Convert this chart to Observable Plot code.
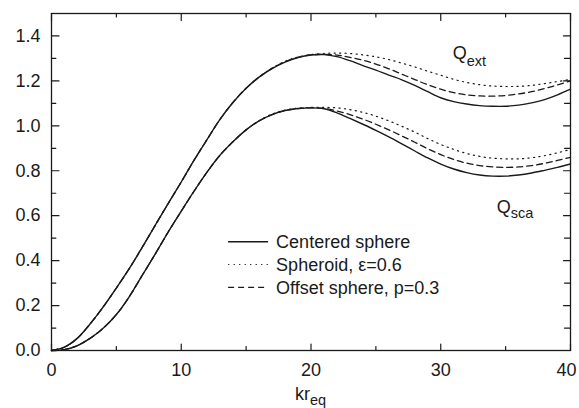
<!DOCTYPE html>
<html><head><meta charset="utf-8">
<script src="https://cdn.jsdelivr.net/npm/d3@7"></script>
<script src="https://cdn.jsdelivr.net/npm/@observablehq/plot@0.6"></script>
<style>
body{margin:0;background:#fff}
svg{font-family:"Liberation Sans",Arial,Helvetica,sans-serif}
</style>
</head><body><div id="chart"></div>
<script>
// ---- data ----
const kr = [0,1,2,3,4,5,6,7,8,9,10,11,12,13,14,15,16,17,18,19,20,21,22,23,24,25,26,27,28,29,30,31,32,33,34,35,36,37,38,39,40];
const extCentered = [0,0.015,0.055,0.12,0.195,0.278,0.365,0.46,0.558,0.655,0.75,0.848,0.94,1.03,1.105,1.167,1.217,1.255,1.284,1.304,1.315,1.317,1.308,1.29,1.268,1.248,1.226,1.205,1.18,1.152,1.125,1.108,1.097,1.09,1.087,1.087,1.092,1.102,1.117,1.138,1.163];
const extSpheroid = [0,0.015,0.055,0.12,0.195,0.278,0.365,0.46,0.558,0.655,0.75,0.848,0.94,1.03,1.105,1.167,1.218,1.257,1.287,1.306,1.317,1.322,1.324,1.322,1.316,1.307,1.295,1.279,1.262,1.243,1.225,1.207,1.193,1.183,1.177,1.175,1.176,1.18,1.188,1.197,1.207];
const extOffset = [0,0.015,0.055,0.12,0.195,0.278,0.365,0.46,0.558,0.655,0.75,0.848,0.94,1.03,1.105,1.167,1.217,1.256,1.285,1.305,1.316,1.318,1.315,1.305,1.292,1.275,1.254,1.23,1.206,1.183,1.163,1.148,1.138,1.133,1.132,1.135,1.142,1.152,1.166,1.182,1.2];
const scaCentered = [0,0.004,0.022,0.055,0.1,0.16,0.24,0.335,0.43,0.528,0.62,0.71,0.795,0.87,0.93,0.982,1.022,1.05,1.068,1.077,1.08,1.076,1.058,1.033,1.007,0.98,0.951,0.92,0.888,0.857,0.83,0.808,0.792,0.781,0.776,0.776,0.781,0.79,0.802,0.815,0.83];
const scaSpheroid = [0,0.004,0.022,0.055,0.1,0.16,0.24,0.335,0.43,0.528,0.62,0.71,0.795,0.87,0.93,0.982,1.023,1.052,1.07,1.079,1.082,1.082,1.08,1.072,1.06,1.043,1.022,0.998,0.972,0.943,0.917,0.895,0.877,0.864,0.856,0.853,0.853,0.858,0.867,0.88,0.895];
const scaOffset = [0,0.004,0.022,0.055,0.1,0.16,0.24,0.335,0.43,0.528,0.62,0.71,0.795,0.87,0.93,0.982,1.022,1.05,1.068,1.077,1.08,1.078,1.066,1.05,1.03,1.007,0.982,0.955,0.927,0.898,0.872,0.85,0.834,0.823,0.817,0.815,0.817,0.823,0.833,0.846,0.86];

const xMajor = [0,10,20,30,40];
const xMinor = [5,15,25,35];
const yMajor = [0,0.2,0.4,0.6,0.8,1.0,1.2,1.4];
const yMinor = [0.1,0.3,0.5,0.7,0.9,1.1,1.3];
const legendLabels = ["Centered sphere","Spheroid, \u03b5=0.6","Offset sphere, p=0.3"];

// ---- styles ----
const ink = "#1a1a1a";
const styles = {
  centered: {strokeWidth:1.4, dash:null},
  spheroid: {strokeWidth:1.2, dash:"1.2,4.3"},
  offset:   {strokeWidth:1.3, dash:"6,4"}
};

const seriesList = [
  {q:"ext", model:"centered", values:extCentered},
  {q:"ext", model:"spheroid", values:extSpheroid},
  {q:"ext", model:"offset",   values:extOffset},
  {q:"sca", model:"centered", values:scaCentered},
  {q:"sca", model:"spheroid", values:scaSpheroid},
  {q:"sca", model:"offset",   values:scaOffset}
];
const table = seriesList.flatMap(s => s.values.map((v,i) => ({kr:kr[i], v, q:s.q, model:s.model})));

const tickShape = {draw(ctx, l){ ctx.moveTo(0,0); ctx.lineTo(0,-l); }};
const tick = (data, channel, anchor, rotate, len) => Plot.vector(data, {
  [channel]: d => d, frameAnchor: anchor, rotate, length: len, anchor: "start",
  shape: tickShape, stroke: ink, strokeWidth: 1.2
});

const lineMarks = ["centered","spheroid","offset"].map(m => Plot.line(table.filter(d => d.model === m), {
  x:"kr", y:"v", z:"q", curve:"catmull-rom", stroke: ink,
  strokeWidth: styles[m].strokeWidth, strokeDasharray: styles[m].dash
}));

const lastX = xMajor[xMajor.length - 1];
const chart = Plot.plot({
  width:579, height:408,
  marginLeft:51, marginRight:9, marginTop:13, marginBottom:58,
  style:{color:ink, background:"#fff"},
  x:{domain:[0,40]},
  y:{domain:[0,1.5]},
  marks:[
    ...lineMarks,
    Plot.frame({stroke:ink, strokeWidth:1.3}),
    tick(xMajor, "x", "bottom", 0, 6.5),
    tick(xMinor, "x", "bottom", 0, 4),
    tick(xMajor, "x", "top", 180, 7),
    tick(xMinor, "x", "top", 180, 3.5),
    tick(yMajor, "y", "left", 90, 7.5),
    tick(yMinor, "y", "left", 90, 4.3),
    tick(yMajor, "y", "right", 270, 7),
    tick(yMinor, "y", "right", 270, 6),
    Plot.axisX({ticks:xMajor.slice(0, -1), tickSize:0, tickPadding:12.5, fontSize:18, label:null, tickFormat:d => String(d)}),
    Plot.axisX({ticks:[lastX], tickSize:0, tickPadding:12.5, fontSize:18, dx:-4, label:null, tickFormat:d => String(d)}),
    Plot.axisY({ticks:yMajor, tickSize:0, tickPadding:11, fontSize:18, label:null, tickFormat:d3.format(".1f")})
  ]
});
document.getElementById("chart").appendChild(chart);

// ---- annotations with subscripts ----
const xs = chart.scale("x"), ys = chart.scale("y");
const svg = d3.select(chart);
function subLabel(x, y, main, sub, size, subSize, subDy){
  const t = svg.append("text").attr("x", x).attr("y", y).attr("fill", ink)
    .attr("font-size", size).attr("text-anchor", "start");
  t.append("tspan").text(main);
  t.append("tspan").attr("font-size", subSize).attr("dy", subDy).text(sub);
}
subLabel(xs.apply(30.96), ys.apply(1.296), "Q", "ext", 18, 14.5, 6.7);
subLabel(xs.apply(34.35), ys.apply(0.608), "Q", "sca", 18, 14.5, 4.7);
subLabel(xs.apply(20) - 15.5, 400, "kr", "eq", 18, 14.5, 4.5);

// ---- legend ----
const lx = xs.apply(13.65), ly = ys.apply(0.482);
const legend = svg.append("g").attr("transform", `translate(${lx},${ly})`).attr("text-anchor", "start");
["centered","spheroid","offset"].forEach((m, i) => {
  const yy = i * 22.8;
  legend.append("line").attr("x1", 0).attr("x2", 40).attr("y1", yy).attr("y2", yy)
    .attr("stroke", ink).attr("stroke-width", styles[m].strokeWidth)
    .attr("stroke-dasharray", styles[m].dash);
  legend.append("text").attr("x", 48).attr("y", yy + 6.2).attr("font-size", 18)
    .attr("fill", ink).text(legendLabels[i]);
});
</script>
</body></html>
